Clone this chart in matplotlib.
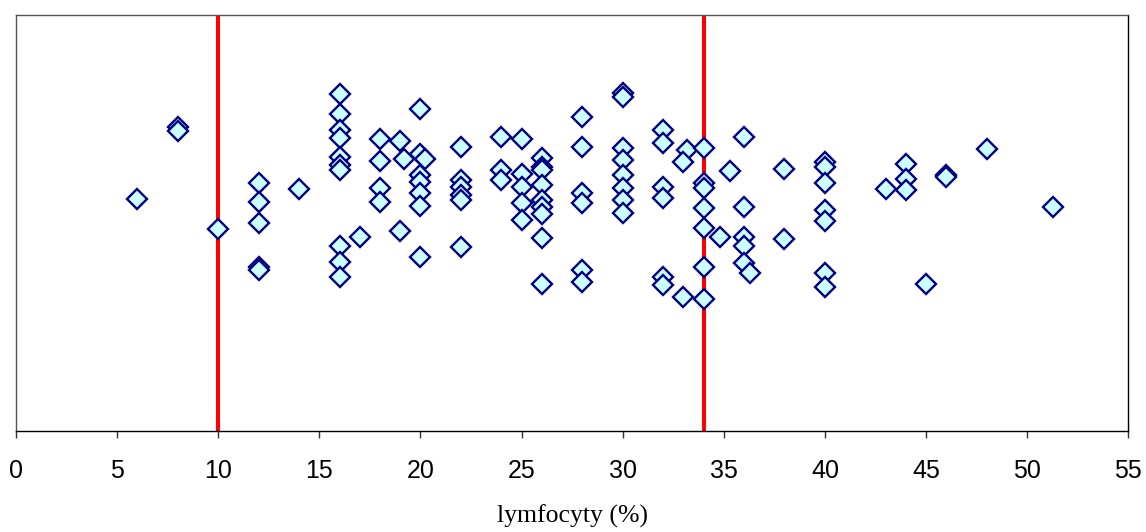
import matplotlib
matplotlib.use("Agg")
import matplotlib.pyplot as plt

# Lymphocyte percentage for each patient and the vertical jitter used to spread them
lymfocyty = [
    6, 8, 8, 10,
    12, 12, 12, 12, 12,
    14,
    16, 16, 16, 16, 16, 16, 16, 16, 16, 16,
    17,
    18, 18, 18, 18,
    19, 19.2, 19,
    20, 20, 20.2, 20, 20, 20, 20, 20,
    22, 22, 22, 22, 22, 22,
    24, 24, 24,
    25, 25, 25, 25, 25,
    26, 26, 26, 26, 26, 26, 26, 26, 26,
    28, 28, 28, 28, 28, 28,
    30, 30, 30, 30, 30, 30, 30, 30,
    32, 32, 32, 32, 32, 32,
    33.2, 33, 33,
    34, 34, 34, 34, 34, 34, 34,
    34.8, 35.3,
    36, 36, 36, 36, 36, 36.3,
    38, 38,
    40, 40, 40, 40, 40, 40, 40,
    43,
    44, 44, 44,
    45,
    46, 46,
    48,
    51.3,
]

rozrzut = [
    55.7, 73.1, 72.1, 48.5,
    59.6, 55.1, 49.9, 39.5, 38.7,
    58.2,
    80.9, 76.1, 72.3, 70.3, 65.9, 63.9, 62.7, 44.5, 40.7, 37.1,
    46.7,
    70.1, 64.9, 58.3, 55.1,
    69.7, 65.3, 48.1,
    77.3, 66.5, 65.3, 61.5, 59.9, 57.1, 54.0, 41.9,
    68.3, 60.3, 58.7, 56.7, 55.5, 44.3,
    70.7, 62.7, 60.3,
    70.1, 61.7, 58.7, 54.7, 50.6,
    65.5, 63.5, 62.6, 59.1, 55.5, 53.8, 52.1, 46.3, 35.3,
    75.5, 68.3, 57.1, 54.8, 38.7, 35.9,
    81.1, 80.3, 67.9, 65.1, 61.5, 58.3, 55.5, 52.3,
    72.3, 69.3, 58.7, 55.9, 37.1, 35.1,
    67.5, 64.7, 32.3,
    67.9, 59.5, 58.3, 53.5, 48.7, 39.5, 31.6,
    46.7, 62.5,
    70.7, 53.9, 46.7, 44.4, 40.3, 37.9,
    62.9, 46.1,
    64.7, 63.3, 59.5, 53.1, 50.5, 37.9, 34.7,
    58.1,
    64.1, 60.5, 57.9,
    35.2,
    61.5, 61.1,
    67.7,
    53.9,
]

# Reference range limits (%)
granice = [10, 34]
x_ticks = list(range(0, 56, 5))

fig = plt.figure(figsize=(11.46, 5.32), dpi=100)
ax = fig.add_axes([16 / 1146, 1 - 431 / 532, (1128.3 - 16) / 1146, (431 - 14.7) / 532])

for g in granice:
    ax.axvline(g, color="#FF0000", linewidth=2.9, zorder=1)

ax.plot(lymfocyty, rozrzut, linestyle="none", marker="D", markersize=10,
        markerfacecolor="#CCFFFF", markeredgecolor="#000080",
        markeredgewidth=1.7, zorder=3, clip_on=False)

ax.set_xlim(0, 55)
ax.set_ylim(0, 100)
ax.set_xticks(x_ticks)
ax.set_xticklabels([str(t) for t in x_ticks], family="Liberation Sans", fontsize=18)
ax.set_yticks([])
ax.tick_params(axis="x", direction="out", length=5, width=1, color="#333333", pad=15.5)

for side in ["top", "left"]:
    ax.spines[side].set_color("#555555")
for side in ["right", "bottom"]:
    ax.spines[side].set_color("#000000")
for s in ax.spines.values():
    s.set_linewidth(1.0)

ax.set_xlabel("lymfocyty (%)", family="Liberation Serif", fontsize=18.5, labelpad=15)

fig.savefig("out.png", dpi=100)
